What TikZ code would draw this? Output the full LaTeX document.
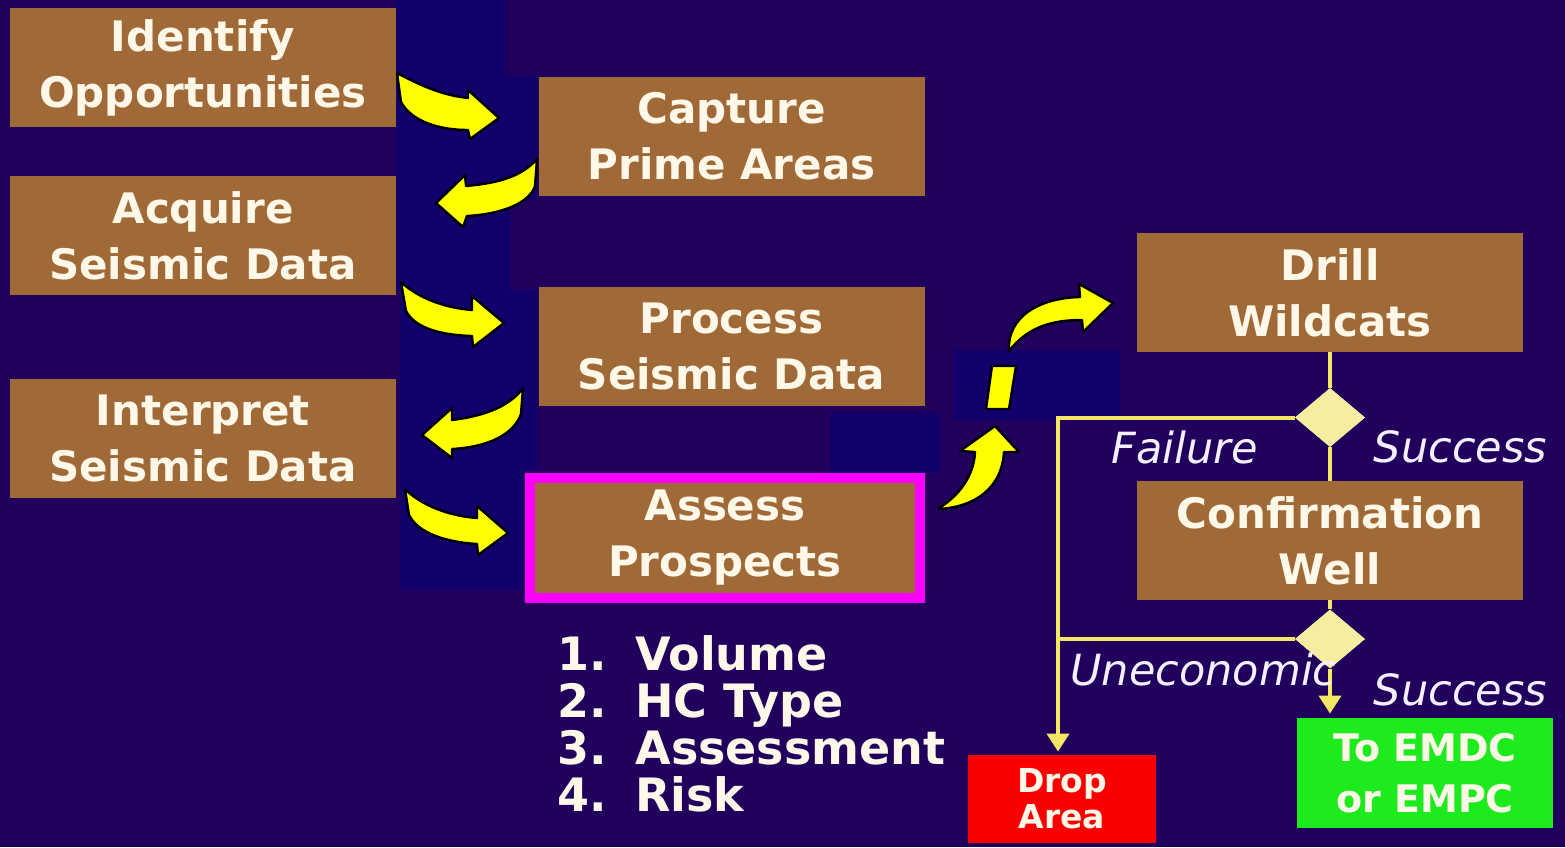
\documentclass[tikz,border=0pt]{standalone}
\usepackage{fontspec}
\setmainfont{DejaVu Sans}
\usetikzlibrary{shapes.geometric,arrows.meta}
\definecolor{bg}{RGB}{32,0,92}
\definecolor{artif}{RGB}{17,0,108}
\definecolor{boxbrown}{RGB}{160,106,56}
\definecolor{boxtext}{RGB}{255,247,232}
\definecolor{arrowyellow}{RGB}{255,255,0}
\definecolor{lineyellow}{RGB}{245,230,100}
\definecolor{diafill}{RGB}{245,238,160}
\definecolor{magentaborder}{RGB}{255,0,255}
\definecolor{dropred}{RGB}{250,0,0}
\definecolor{okgreen}{RGB}{30,235,30}
\definecolor{labeltext}{RGB}{245,240,255}
\begin{document}
\begin{tikzpicture}[x=0.5pt,y=-0.5pt,
  stepbox/.style={fill=boxbrown, draw=none, minimum width=193pt, minimum height=59.5pt,
    inner sep=0pt, align=center, text=boxtext, font=\bfseries\fontsize{21pt}{28pt}\selectfont},
  blockarrow/.style={fill=arrowyellow, draw=black, line width=1.2pt, line join=round},
  conn/.style={draw=lineyellow, line width=2pt},
  connarrow/.style={conn, -{Triangle[width=11pt,length=9pt]}},
  decision/.style={diamond, fill=diafill, draw=none, minimum width=35pt, minimum height=29.5pt, inner sep=0pt},
  listtxt/.style={text=boxtext, font=\bfseries\fontsize{23pt}{23pt}\selectfont, inner sep=0pt},
  outcome/.style={text=labeltext, font=\itshape\fontsize{21.5pt}{21.5pt}\selectfont, inner sep=0pt},
  endbox/.style={inner sep=0pt, align=center, text=boxtext}
]
% background
\fill[bg] (0,0) rectangle (1565,847);
\useasboundingbox (0,0) rectangle (1565,847);
% darker blue patches
\fill[artif] (396,0) rectangle (505,75);
\fill[artif] (396,75) rectangle (537,200);
\fill[artif] (396,200) rectangle (510,290);
\fill[artif] (400,290) rectangle (537,470);
\fill[artif] (400,470) rectangle (523,590);
\fill[artif] (953,350) rectangle (1120,420);
\fill[artif] (830,413) rectangle (940,473);

% boxes
\node[stepbox] (ident)   at (203,67.5)   {Identify\\Opportunities};
\node[stepbox] (capture) at (731.5,136)  {Capture\\Prime Areas};
\node[stepbox] (acquire) at (203,235.5)  {Acquire\\Seismic Data};
\node[stepbox] (process) at (731.5,346.5){Process\\Seismic Data};
\node[stepbox] (interp)  at (203,438)    {Interpret\\Seismic Data};
\node[stepbox, draw=magentaborder, line width=5pt, minimum width=195pt, minimum height=60pt]
               (assess)  at (725,538)    {Assess\\Prospects};
\node[stepbox] (drill)   at (1330,292.5) {Drill\\Wildcats};
\node[stepbox] (confirm) at (1330,540.5) {Confirmation\\Well};
\node[endbox, fill=dropred, minimum width=94pt, minimum height=44pt,
      font=\bfseries\fontsize{16.5pt}{18pt}\selectfont] (drop) at (1062,799) {Drop\\Area};
\node[endbox, fill=okgreen, minimum width=128pt, minimum height=55pt,
      font=\bfseries\fontsize{19pt}{25.5pt}\selectfont] (emdc) at (1425,773) {To EMDC\\or EMPC};

% curved block arrows
\path[blockarrow] (397,73) .. controls (418,84) and (440,95) .. (468,98) -- (468,90) -- (499,118)
   -- (470,139) -- (468,130) .. controls (440,130) and (412,122) .. (401,102) -- cycle;
\path[blockarrow] (537,159) .. controls (522,176) and (500,183) .. (466,186) -- (465,175) -- (436,203)
   -- (463,227) -- (467,216) .. controls (504,214) and (530,202) .. (535,186) -- cycle;
\path[blockarrow] (401,282) .. controls (418,298) and (445,308) .. (472,310) -- (472,296) -- (504,323)
   -- (473,347) -- (472,336) .. controls (440,335) and (415,328) .. (406,311) -- cycle;
\path[blockarrow] (523,388) .. controls (510,406) and (485,416) .. (452,420) -- (452,408) -- (422,435)
   -- (452,458) -- (452,449) .. controls (489,447) and (514,434) .. (521,414) -- cycle;
\path[blockarrow] (405,489) .. controls (422,506) and (450,516) .. (477,518) -- (477,506) -- (508,533)
   -- (478,555) -- (477,544) .. controls (445,542) and (418,533) .. (409,515) -- cycle;
% dashed arrow towards Drill Wildcats
\path[blockarrow] (939,508) .. controls (960,495) and (974,475) .. (975,452) -- (960,451) -- (995,426)
   -- (1019,452) -- (1004,452) .. controls (1002,488) and (975,507) .. (939,509) -- cycle;
\path[blockarrow] (992,366) -- (1016,366) -- (1009,409) -- (986,409) -- cycle;
\path[blockarrow] (1009,351) .. controls (1007,316) and (1040,298) .. (1080,297) -- (1079,284) -- (1113,303)
   -- (1083,332) -- (1082,320) .. controls (1045,320) and (1025,331) .. (1009,351) -- cycle;

% decisions
\node[decision] (d1) at (1330,417.5) {};
\node[decision] (d2) at (1330,639) {};
\coordinate (rail) at (1058,0);

\draw[conn] (drill.south) -- (d1.north);
\draw[conn] (d1.south) -- (confirm.north);
\draw[conn] (confirm.south) -- (d2.north);
\draw[connarrow, shorten >=2pt] (d2.south) -- (d2.south |- emdc.north);
\draw[connarrow, shorten >=1.5pt] (d1.west) -| (rail |- drop.north);
\draw[conn] (d2.west) -- (rail |- d2.west);
% diamonds on top of the lines
\node[decision] at (d1) {};
\node[decision] at (d2) {};

% outcome labels
\node[outcome, anchor=base] (fail) at (1184.5,463) {Failure};
\node[outcome, anchor=base] (succ1) at (1460.5,462) {Success};
\node[outcome, anchor=base] (unec) at (1203.5,685) {Uneconomic};
\node[outcome, anchor=base] (succ2) at (1460.5,705) {Success};

% list
\node[listtxt, anchor=base west] (n1) at (557,670) {1.};
\node[listtxt, anchor=base west] (w1) at (635,670) {Volume};
\node[listtxt, anchor=base west] (n2) at (557,717) {2.};
\node[listtxt, anchor=base west] (w2) at (635,717) {HC Type};
\node[listtxt, anchor=base west] (n3) at (557,764) {3.};
\node[listtxt, anchor=base west] (w3) at (635,764) {Assessment};
\node[listtxt, anchor=base west] (n4) at (557,811) {4.};
\node[listtxt, anchor=base west] (w4) at (635,811) {Risk};
\end{tikzpicture}
\end{document}
